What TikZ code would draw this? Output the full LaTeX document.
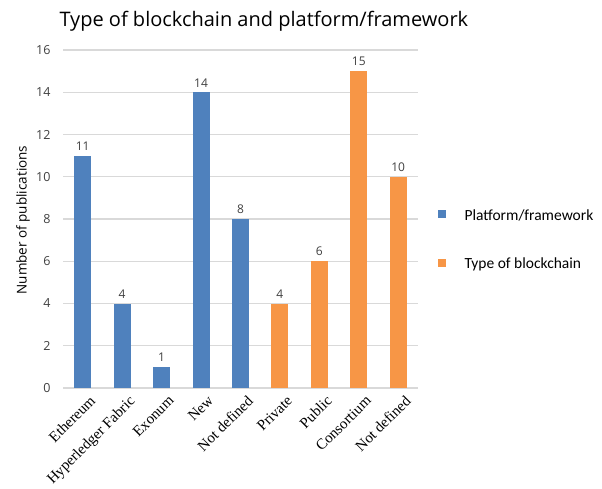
\documentclass[tikz,border=0pt]{standalone}
\usepackage{fontspec}
\setmainfont{Liberation Serif}
\newfontfamily\chartfont{Open Sans}
\newfontfamily\legendfont{Carlito}
\usepackage{xcolor}

\definecolor{platform}{HTML}{4F81BD}
\definecolor{chaintype}{HTML}{F79646}
\definecolor{gridline}{HTML}{D9D9D9}
\definecolor{inktext}{HTML}{404040}

\begin{document}
\begin{tikzpicture}[x=1pt,y=-1pt,
  ticklabel/.style={anchor=east,font=\chartfont\fontsize{12.5}{14}\selectfont,text=inktext},
  vallabel/.style={anchor=south,font=\chartfont\fontsize{12}{14}\selectfont,text=inktext,inner sep=2pt},
  catlabel/.style={anchor=north east,rotate=45,font=\fontsize{15}{17}\selectfont,inner sep=1pt},
  legendkey/.style={minimum size=8,inner sep=0pt},
  legendtext/.style={anchor=west,font=\legendfont\fontsize{15.5}{17}\selectfont}]
\useasboundingbox (0,0) rectangle (602,488);
\node[anchor=west,font=\chartfont\fontsize{20}{24}\selectfont] (title) at (56,21) {Type of blockchain and platform/framework};
\node[rotate=90,font=\chartfont\fontsize{13.5}{15}\selectfont] (ylabel) at (23,220) {Number of publications};
  \foreach \v in {0,2,...,16}
  {  \draw[gridline,line width=1.2] (63,388-21.125*\v) -- (418,388-21.125*\v);
     \node[ticklabel] (tick\v) at (54,388-21.125*\v) {\v};}
  \foreach \crlr/\pos/\val/\lab in {platform/1/11/Ethereum,platform/2/4/Hyperledger Fabric,platform/3/1/Exonum,platform/4/14/New,platform/5/8/Not defined,chaintype/6/4/Private,chaintype/7/6/Public,chaintype/8/15/Consortium,chaintype/9/10/Not defined}
  {  \fill[\crlr] (63+39.44*\pos-19.72-8.5,388) rectangle (63+39.44*\pos-19.72+8.5,388-21.125*\val);
     \node[vallabel] (val\pos) at (63+39.44*\pos-19.72,388-21.125*\val-3) {\val};
     \node[catlabel] (cat\pos) at (63+39.44*\pos-19.72+6,393) {\lab};}
\node[legendkey,fill=platform] (keyA) at (442,214) {};
\node[legendtext] (textA) at (461,215) {Platform/framework};
\node[legendkey,fill=chaintype] (keyB) at (442,263) {};
\node[legendtext] (textB) at (461,264) {Type of blockchain};
\end{tikzpicture}
\end{document}
